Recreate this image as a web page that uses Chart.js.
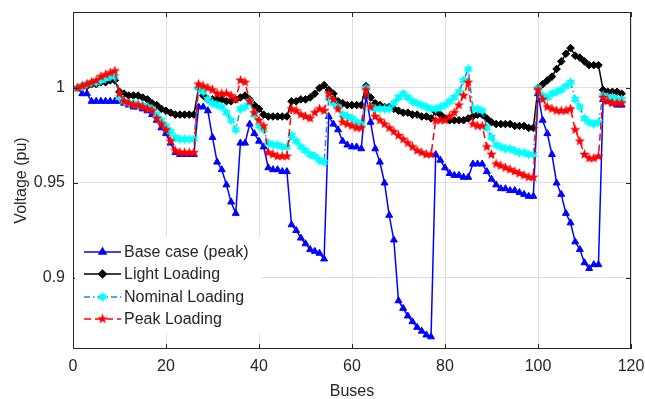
<!DOCTYPE html>
<html>
<head>
<meta charset="utf-8">
<script src="https://cdn.jsdelivr.net/npm/chart.js@4.4.0/dist/chart.umd.min.js"></script>
<style>
    html, body { margin: 0; padding: 0; background: #ffffff; }
    #wrap { width: 645px; height: 399px; }
</style>
</head>
<body>
<div id="wrap"><canvas id="voltageChart" width="645" height="399"></canvas></div>
<script>
// Bus voltage profiles (pu), one value per bus 1..118
const seriesNames = ["Base case (peak)", "Light Loading", "Nominal Loading", "Peak Loading"];
const xTicks = [0, 20, 40, 60, 80, 100, 120];
const yTicks = [0.9, 0.95, 1];

const baseCase = [
    1.000, 0.997, 0.997, 0.993, 0.993, 0.993, 0.993, 0.993, 0.993, 0.993,
    0.992, 0.991, 0.990, 0.990, 0.989, 0.988, 0.986, 0.983, 0.979, 0.976,
    0.971, 0.966, 0.965, 0.965, 0.965, 0.965, 0.990, 0.990, 0.988, 0.974,
    0.961, 0.957, 0.949, 0.940, 0.934, 0.971, 0.971, 0.981, 0.976, 0.972,
    0.969, 0.958, 0.957, 0.957, 0.956, 0.956, 0.928, 0.925, 0.921, 0.918,
    0.915, 0.914, 0.913, 0.910, 0.985, 0.981, 0.978, 0.972, 0.970, 0.969,
    0.969, 0.968, 0.996, 0.982, 0.968, 0.961, 0.950, 0.933, 0.920, 0.888,
    0.884, 0.880, 0.877, 0.874, 0.872, 0.870, 0.869, 0.965, 0.962, 0.958,
    0.955, 0.954, 0.954, 0.953, 0.953, 0.960, 0.960, 0.960, 0.956, 0.952,
    0.949, 0.947, 0.947, 0.946, 0.946, 0.945, 0.944, 0.943, 0.943, 0.997,
    0.983, 0.976, 0.965, 0.950, 0.944, 0.934, 0.929, 0.919, 0.915, 0.908,
    0.905, 0.907, 0.907, 0.994, 0.993, 0.992, 0.991, 0.991
];

const lightLoading = [
    1.000, 1.001, 1.001, 1.002, 1.002, 1.003, 1.003, 1.004, 1.004, 0.998,
    0.997, 0.996, 0.996, 0.996, 0.995, 0.994, 0.992, 0.991, 0.989, 0.988,
    0.987, 0.986, 0.986, 0.986, 0.986, 0.986, 1.000, 0.996, 0.994, 0.994,
    0.994, 0.994, 0.993, 0.993, 0.994, 0.995, 0.996, 0.994, 0.991, 0.989,
    0.986, 0.985, 0.985, 0.985, 0.985, 0.985, 0.993, 0.993, 0.994, 0.994,
    0.995, 0.997, 1.000, 1.0015, 0.999, 0.997, 0.993, 0.992, 0.991, 0.991,
    0.991, 0.991, 1.001, 0.995, 0.992, 0.991, 0.990, 0.990, 0.989, 0.988,
    0.987, 0.987, 0.986, 0.986, 0.985, 0.985, 0.984, 0.9875, 0.986, 0.984,
    0.983, 0.983, 0.983, 0.983, 0.984, 0.985, 0.986, 0.986, 0.984, 0.982,
    0.981, 0.981, 0.981, 0.981, 0.980, 0.980, 0.980, 0.979, 0.979, 1.000,
    1.002, 1.004, 1.006, 1.010, 1.014, 1.018, 1.021, 1.017, 1.016, 1.014,
    1.012, 1.012, 1.012, 0.999, 0.998, 0.998, 0.998, 0.997
];

const nominalLoading = [
    1.000, 1.001, 1.002, 1.003, 1.003, 1.004, 1.005, 1.006, 1.006, 0.995,
    0.993, 0.992, 0.992, 0.991, 0.991, 0.990, 0.989, 0.986, 0.983, 0.980,
    0.977, 0.974, 0.973, 0.973, 0.973, 0.973, 1.000, 0.998, 0.994, 0.992,
    0.991, 0.990, 0.987, 0.983, 0.978, 0.989, 0.990, 0.993, 0.986, 0.980,
    0.978, 0.971, 0.970, 0.970, 0.969, 0.969, 0.975, 0.972, 0.969, 0.967,
    0.965, 0.964, 0.962, 0.961, 0.995, 0.992, 0.990, 0.986, 0.985, 0.984,
    0.982, 0.981, 1.000, 0.990, 0.989, 0.989, 0.989, 0.989, 0.992, 0.995,
    0.997, 0.995, 0.993, 0.992, 0.991, 0.990, 0.989, 0.989, 0.990, 0.991,
    0.993, 0.995, 0.998, 1.004, 1.010, 0.989, 0.989, 0.988, 0.979, 0.974,
    0.970, 0.969, 0.968, 0.968, 0.967, 0.966, 0.966, 0.965, 0.965, 1.000,
    0.996, 0.995, 0.997, 0.998, 0.999, 1.001, 1.003, 0.994, 0.990, 0.984,
    0.982, 0.981, 0.982, 0.996, 0.995, 0.995, 0.994, 0.994
];

const peakLoading = [
    1.000, 1.001, 1.002, 1.003, 1.004, 1.006, 1.007, 1.008, 1.009, 0.997,
    0.993, 0.992, 0.991, 0.991, 0.990, 0.989, 0.988, 0.984, 0.981, 0.978,
    0.972, 0.967, 0.966, 0.966, 0.966, 0.966, 1.002, 1.001, 1.000, 0.999,
    0.997, 0.997, 0.997, 0.996, 0.994, 1.004, 1.003, 0.993, 0.987, 0.983,
    0.980, 0.966, 0.965, 0.964, 0.964, 0.964, 0.989, 0.988, 0.986, 0.985,
    0.984, 0.987, 0.989, 0.988, 0.997, 0.994, 0.989, 0.982, 0.981, 0.980,
    0.979, 0.979, 0.999, 0.990, 0.985, 0.983, 0.981, 0.979, 0.977, 0.975,
    0.973, 0.971, 0.969, 0.967, 0.966, 0.965, 0.965, 0.983, 0.983, 0.983,
    0.985, 0.987, 0.991, 0.996, 1.003, 0.981, 0.980, 0.980, 0.969, 0.965,
    0.960, 0.959, 0.958, 0.957, 0.956, 0.955, 0.954, 0.953, 0.953, 0.999,
    0.994, 0.990, 0.989, 0.988, 0.988, 0.988, 0.989, 0.978, 0.972, 0.965,
    0.963, 0.963, 0.964, 0.995, 0.993, 0.992, 0.992, 0.992
];

const buses = baseCase.map((v, i) => i + 1);

const textColor = "#262626";
const fontFamily = "'Liberation Sans', Arial, sans-serif";

// filled star markers like MATLAB's pentagram / hexagram
function starMarker(points, outer, inner, fill) {
    const size = Math.ceil(outer * 2 + 2);
    const c = document.createElement("canvas");
    c.width = size;
    c.height = size;
    const g = c.getContext("2d");
    const cx = size / 2, cy = size / 2;
    g.beginPath();
    for (let k = 0; k < points * 2; k++) {
        const r = k % 2 === 0 ? outer : inner;
        const a = -Math.PI / 2 + k * Math.PI / points;
        const px = cx + r * Math.cos(a), py = cy + r * Math.sin(a);
        if (k === 0) g.moveTo(px, py); else g.lineTo(px, py);
    }
    g.closePath();
    g.fillStyle = fill;
    g.fill();
    return c;
}

const pentagram = starMarker(5, 5.4, 2.3, "#ff0000");
const hexagram = starMarker(6, 5.2, 2.9, "#00ffff");

function toPoints(values) {
    return values.map((v, i) => ({ x: buses[i], y: v }));
}

const datasets = [
    {
        label: seriesNames[0],
        data: toPoints(baseCase),
        borderColor: "#0000ff",
        backgroundColor: "#0000ff",
        borderWidth: 1.5,
        pointStyle: "triangle",
        pointRadius: 4,
        pointBorderWidth: 1,
        order: 4
    },
    {
        label: seriesNames[1],
        data: toPoints(lightLoading),
        borderColor: "#000000",
        backgroundColor: "#000000",
        borderWidth: 1.5,
        pointStyle: "rectRot",
        pointRadius: 3.8,
        pointBorderWidth: 1,
        order: 3
    },
    {
        label: seriesNames[2],
        data: toPoints(nominalLoading),
        borderColor: "#1f88cc",
        backgroundColor: "#00ffff",
        borderWidth: 1.5,
        borderDash: [6, 3, 1.5, 3],
        pointStyle: hexagram,
        pointRadius: 5,
        order: 2
    },
    {
        label: seriesNames[3],
        data: toPoints(peakLoading),
        borderColor: "#ff0000",
        backgroundColor: "#ff0000",
        borderWidth: 1.5,
        borderDash: [7, 4],
        pointStyle: pentagram,
        pointRadius: 5,
        order: 1
    }
];

// axes box, inward ticks and the legend drawn MATLAB style
const matlabFrame = {
    id: "matlabFrame",
    afterDraw(chart) {
        const { ctx, chartArea: a, scales } = chart;
        ctx.save();
        ctx.strokeStyle = textColor;
        ctx.lineWidth = 1;
        ctx.beginPath();
        xTicks.forEach(t => {
            const px = Math.round(scales.x.getPixelForValue(t)) + 0.5;
            ctx.moveTo(px, a.bottom); ctx.lineTo(px, a.bottom - 5);
            ctx.moveTo(px, a.top); ctx.lineTo(px, a.top + 5);
        });
        yTicks.forEach(t => {
            const py = Math.round(scales.y.getPixelForValue(t)) + 0.5;
            ctx.moveTo(a.left, py); ctx.lineTo(a.left + 5, py);
            ctx.moveTo(a.right, py); ctx.lineTo(a.right - 5, py);
        });
        ctx.stroke();
        ctx.strokeRect(Math.round(a.left) + 0.5, Math.round(a.top) + 0.5,
            Math.round(a.right - a.left) - 1, Math.round(a.bottom - a.top) - 1);

        // legend
        const box = { x: 75, y: 237, w: 187, h: 96 };
        ctx.fillStyle = "#ffffff";
        ctx.fillRect(box.x, box.y, box.w, box.h);
        const rowY = [252, 274, 297, 319];
        ctx.font = "16px " + fontFamily;
        ctx.textBaseline = "middle";
        datasets.forEach((ds, i) => {
            const y = rowY[i];
            ctx.save();
            ctx.strokeStyle = ds.borderColor;
            ctx.lineWidth = ds.borderWidth;
            ctx.setLineDash(ds.borderDash || []);
            ctx.beginPath();
            ctx.moveTo(84, y); ctx.lineTo(121, y);
            ctx.stroke();
            ctx.setLineDash([]);
            ctx.fillStyle = ds.backgroundColor;
            ctx.strokeStyle = ds.backgroundColor;
            Chart.helpers.drawPoint(ctx, {
                pointStyle: ds.pointStyle,
                radius: ds.pointRadius,
                rotation: 0,
                borderWidth: ds.pointBorderWidth || 0
            }, 102.5, y);
            ctx.restore();
            ctx.fillStyle = textColor;
            ctx.fillText(ds.label, 124, y + 1);
        });
        ctx.restore();
    }
};

const ctx = document.getElementById("voltageChart").getContext("2d");
const voltageChart = new Chart(ctx, {
    type: "line",
    data: { datasets: datasets },
    options: {
        responsive: false,
        animation: false,
        layout: { padding: { left: 0, top: 12, right: 14, bottom: 0 } },
        plugins: {
            legend: { display: false },
            tooltip: { enabled: false }
        },
        elements: {
            line: { tension: 0 }
        },
        scales: {
            x: {
                type: "linear",
                min: 0,
                max: 120,
                afterBuildTicks: axis => { axis.ticks = xTicks.map(v => ({ value: v })); },
                afterFit: scale => {
                    scale.height = 50;
                    scale.paddingLeft = 0;
                    scale.paddingRight = 0;
                },
                grid: { color: "#dedede", lineWidth: 1, drawTicks: false },
                border: { display: false },
                ticks: {
                    color: textColor,
                    font: { family: fontFamily, size: 16 },
                    padding: 8,
                    maxRotation: 0
                },
                title: {
                    display: true,
                    text: "Buses",
                    color: textColor,
                    font: { family: fontFamily, size: 16 },
                    padding: { top: 0, bottom: -2 }
                }
            },
            y: {
                type: "linear",
                min: 0.8626,
                max: 1.04,
                afterBuildTicks: axis => { axis.ticks = yTicks.map(v => ({ value: v })); },
                afterFit: scale => {
                    scale.width = 73;
                    scale.paddingTop = 0;
                    scale.paddingBottom = 0;
                },
                grid: { color: "#dedede", lineWidth: 1, drawTicks: false },
                border: { display: false },
                ticks: {
                    color: textColor,
                    font: { family: fontFamily, size: 16 },
                    padding: 8,
                    callback: v => String(v)
                },
                title: {
                    display: true,
                    text: "Voltage (pu)",
                    color: textColor,
                    font: { family: fontFamily, size: 16 },
                    padding: { top: 12, bottom: 0 }
                }
            }
        }
    },
    plugins: [matlabFrame]
});
</script>
</body>
</html>
